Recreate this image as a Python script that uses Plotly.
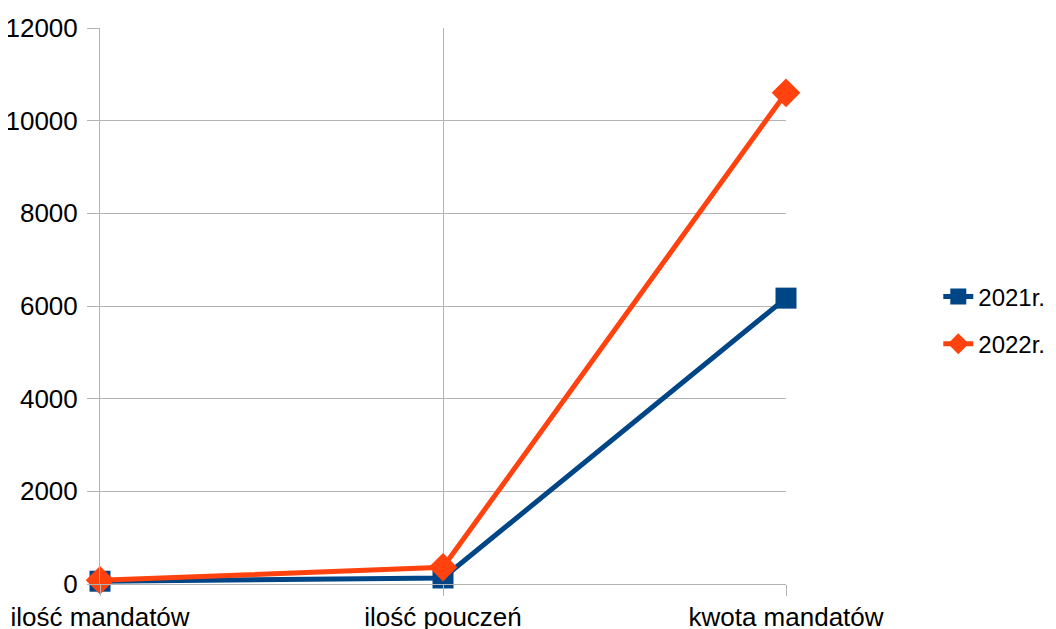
import plotly.graph_objects as go

categories = ["ilość mandatów", "ilość pouczeń", "kwota mandatów"]
values_2021 = [60, 130, 6170]
values_2022 = [80, 360, 10600]
series_names = ["2021r.", "2022r."]
y_ticks = [0, 2000, 4000, 6000, 8000, 10000, 12000]

FONT = "Liberation Sans, Arial, sans-serif"
GRID = "#b3b3b3"
FS = 26

fig = go.Figure()
fig.add_trace(go.Scatter(
    x=categories, y=values_2021, name=series_names[0], mode="lines+markers",
    legendgroup="a",
    line=dict(color="#004586", width=5),
    marker=dict(symbol="square", size=21, color="#004586"),
    cliponaxis=False,
))
fig.add_trace(go.Scatter(
    x=categories, y=values_2022, name=series_names[1], mode="lines+markers",
    legendgroup="b",
    line=dict(color="#ff420e", width=5),
    marker=dict(symbol="diamond", size=22, color="#ff420e"),
    cliponaxis=False,
))

# the page body has an 8px margin, so the figure is sized/offset to compensate
fig.update_layout(
    width=1048, height=621,
    margin=dict(l=92, r=270, t=20, b=45, autoexpand=False),
    paper_bgcolor="white", plot_bgcolor="white",
    font=dict(family=FONT, size=FS, color="black"),
    showlegend=True,
    legend=dict(x=1.222, y=0.474, xanchor="left", yanchor="middle",
                font=dict(family=FONT, size=24, color="black"),
                traceorder="grouped", tracegroupgap=13,
                borderwidth=0,
                bgcolor="rgba(0,0,0,0)"),
    xaxis=dict(
        type="category", range=[0, 2], automargin=False,
        showgrid=True, gridcolor=GRID, gridwidth=1,
        showline=True, linecolor=GRID, mirror=False,
        ticks="outside", ticklen=11, tickcolor=GRID,
        tickfont=dict(family=FONT, size=FS, color="black"),
        ticklabelstandoff=-1,
        zeroline=False,
    ),
    yaxis=dict(
        range=[0, 12000], tickvals=y_ticks, automargin=False,
        ticktext=[str(v) for v in y_ticks],
        showgrid=True, gridcolor=GRID, gridwidth=1,
        showline=True, linecolor=GRID,
        ticks="outside", ticklen=12, tickcolor=GRID,
        tickfont=dict(family=FONT, size=FS, color="black"),
        ticklabelstandoff=4,
        zeroline=False,
    ),
)

fig.write_html("out.html")
